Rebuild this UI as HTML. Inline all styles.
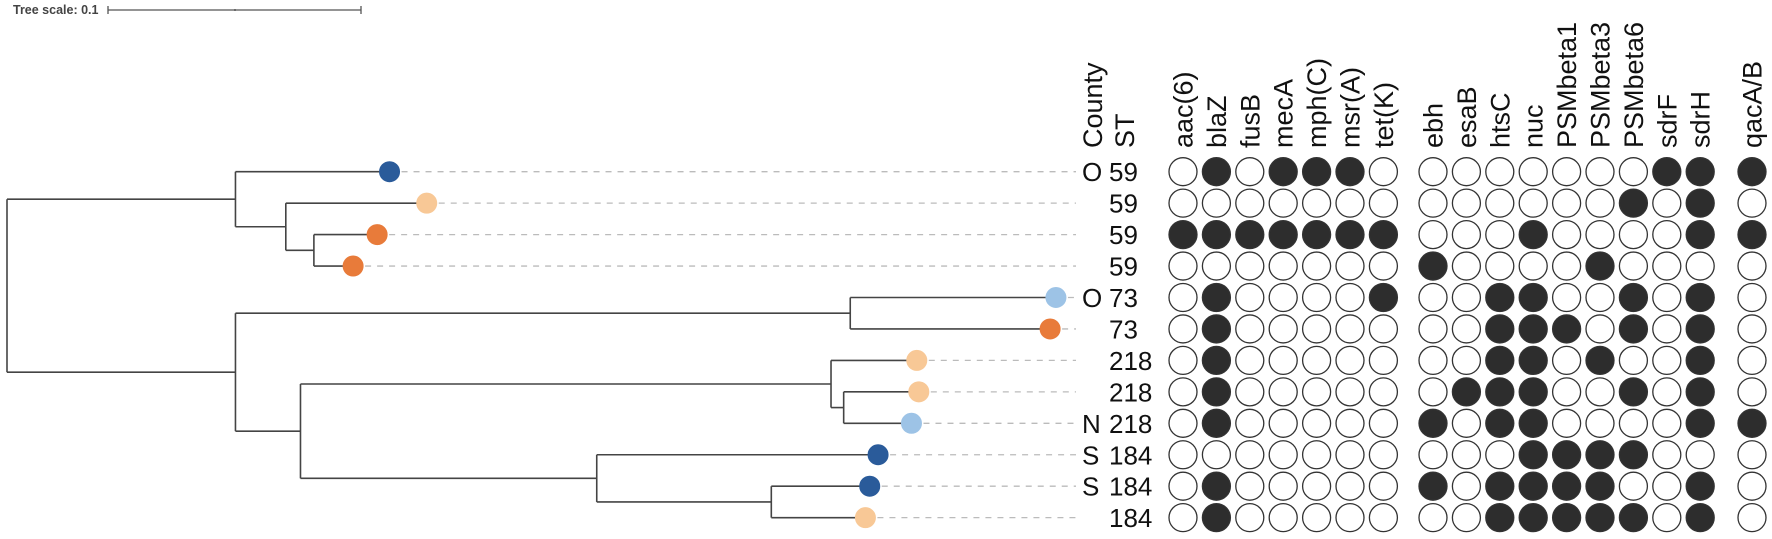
<!DOCTYPE html>
<html><head><meta charset="utf-8">
<style>
html,body{margin:0;padding:0;background:#fff;}
svg{display:block;font-family:"Liberation Sans",Arial,sans-serif;}
</style></head>
<body>
<svg id="chart" width="1772" height="539" viewBox="0 0 1772 539" xmlns="http://www.w3.org/2000/svg">
  <g>
    <text x="13" y="14" font-size="12.5" font-weight="bold" fill="#444">Tree scale: 0.1</text>
    <line x1="108" y1="10" x2="361" y2="10" stroke="#555" stroke-width="1.3"/>
    <line x1="108" y1="6" x2="108" y2="14" stroke="#555" stroke-width="1.3"/>
    <line x1="361" y1="6" x2="361" y2="14" stroke="#555" stroke-width="1.3"/>
    <line x1="235" y1="9" x2="235" y2="11" stroke="#555" stroke-width="1.3"/>
  </g>
  <g id="tree"></g>
  <g id="labels"></g>
  <g id="matrix"></g>
</svg>
<script>
// ---- data ----
const stValues = ["59","59","59","59","73","73","218","218","218","184","184","184"];
const countyValues = ["O","","","","O","","","","N","S","S",""];
const leafColors = ["#2a5b9a","#f8c896","#e87b3a","#e87b3a","#9dc3e6","#e87b3a","#f8c896","#f8c896","#9dc3e6","#2a5b9a","#2a5b9a","#f8c896"];
const leafDepths = [0.1512,0.1659,0.1463,0.1368,0.4146,0.4123,0.3596,0.3604,0.3575,0.3443,0.3410,0.3393];
// internal nodes: [name, depth, children]  (children: "L#" leaf index or node name)
const nodeNames = ["root","A","B","C","D","E","F","G","H","I","J"];
const nodeDepths = [0,0.0903,0.1102,0.1213,0.0903,0.3333,0.1160,0.3257,0.3307,0.2331,0.3021];
const nodeChildren = [["A","D"],["L0","B"],["L1","C"],["L2","L3"],["E","F"],["L4","L5"],["G","I"],["L6","H"],["L7","L8"],["L9","J"],["L10","L11"]];
const genes1 = ["aac(6)","blaZ","fusB","mecA","mph(C)","msr(A)","tet(K)"];
const genes2 = ["ebh","esaB","htsC","nuc","PSMbeta1","PSMbeta3","PSMbeta6","sdrF","sdrH"];
const genes3 = ["qacA/B"];
const presence1 = [
 [0,1,0,1,1,1,0],[0,0,0,0,0,0,0],[1,1,1,1,1,1,1],[0,0,0,0,0,0,0],
 [0,1,0,0,0,0,1],[0,1,0,0,0,0,0],[0,1,0,0,0,0,0],[0,1,0,0,0,0,0],
 [0,1,0,0,0,0,0],[0,0,0,0,0,0,0],[0,1,0,0,0,0,0],[0,1,0,0,0,0,0]];
const presence2 = [
 [0,0,0,0,0,0,0,1,1],[0,0,0,0,0,0,1,0,1],[0,0,0,1,0,0,0,0,1],[1,0,0,0,0,1,0,0,0],
 [0,0,1,1,0,0,1,0,1],[0,0,1,1,1,0,1,0,1],[0,0,1,1,0,1,0,0,1],[0,1,1,1,0,0,1,0,1],
 [1,0,1,1,0,0,0,0,1],[0,0,0,1,1,1,1,0,0],[1,0,1,1,1,1,0,0,1],[0,0,1,1,1,1,1,0,1]];
const presence3 = [[1],[0],[1],[0],[0],[0],[0],[0],[1],[0],[0],[0]];

// ---- scales ----
const NS="http://www.w3.org/2000/svg";
const xTree = d => 7 + d*2530;
const yRow = i => 171.7 + i*31.45;
const dashEnd = 1076;
function mk(tag, attrs, parent){const e=document.createElementNS(NS,tag);for(const k in attrs)e.setAttribute(k,attrs[k]);parent.appendChild(e);return e;}

const tree=document.getElementById('tree');
const nodeY={};
function yOf(c){
  if(c[0]==="L") return yRow(+c.slice(1));
  const idx=nodeNames.indexOf(c);
  if(nodeY[c]!==undefined) return nodeY[c];
  const ys=nodeChildren[idx].map(yOf);
  nodeY[c]=(ys[0]+ys[1])/2; return nodeY[c];
}
function xOf(c){ return c[0]==="L" ? xTree(leafDepths[+c.slice(1)]) : xTree(nodeDepths[nodeNames.indexOf(c)]); }
yOf("root");
// root stub
let stub=mk('line',{x1:xTree(0),y1:nodeY.root,x2:xTree(0),y2:nodeY.root,stroke:"#444","stroke-width":1.6},tree);
nodeNames.forEach((n,idx)=>{
  const x=xTree(nodeDepths[idx]);
  const ch=nodeChildren[idx];
  const ys=ch.map(yOf);
  const v=mk('line',{x1:x,y1:ys[0],x2:x,y2:ys[1],stroke:"#444","stroke-width":1.6},tree);
  
  
  ch.forEach((c,k)=>{
    const h=mk('line',{x1:x,y1:ys[k],x2:xOf(c),y2:ys[k],stroke:"#444","stroke-width":1.6},tree);
    
    
  });
});
// leaves
leafDepths.forEach((d,i)=>{
  const x=xTree(d), y=yRow(i);
  const dl=mk('line',{x1:x,y1:y,x2:dashEnd,y2:y,stroke:"#bbb","stroke-width":1.3,"stroke-dasharray":"6,6"},tree);
  
  
  const c=mk('circle',{cx:x,cy:y,r:10,fill:leafColors[i],stroke:leafColors[i],"stroke-width":1},tree);
  
  
});

// labels
const lab=document.getElementById('labels');
function vtext(txt,x,parent,name){
  const t=mk('text',{x:0,y:0,transform:`translate(${x},148) rotate(-90)`,"font-size":27,fill:"#111"},parent);
  t.textContent=txt;
  
  
}
vtext("County",1102,lab,'county-header');
vtext("ST",1134,lab,'st-header');
countyValues.forEach((c,i)=>{
  if(!c) return;
  const t=mk('text',{x:1082,y:yRow(i)+9.5,"font-size":26,fill:"#111"},lab);
  t.textContent=c;
  
  
});
stValues.forEach((s,i)=>{
  const t=mk('text',{x:1109,y:yRow(i)+9.5,"font-size":26,fill:"#111"},lab);
  t.textContent=s;
  
  
});

// matrix
const mat=document.getElementById('matrix');
function group(genes,pres,x0){
  genes.forEach((g,j)=>{
    const x=x0+j*33.4;
    vtext(g,x+9.5,mat,'gene-header');
    pres.forEach((row,i)=>{
      const c=mk('circle',{cx:x,cy:yRow(i),r:14,fill:row[j]?"#2d2d2d":"#fff",stroke:"#333","stroke-width":1.3},mat);
      
      
    });
  });
}
group(genes1,presence1,1183);
group(genes2,presence2,1433);
group(genes3,presence3,1752);
</script>
</body></html>
